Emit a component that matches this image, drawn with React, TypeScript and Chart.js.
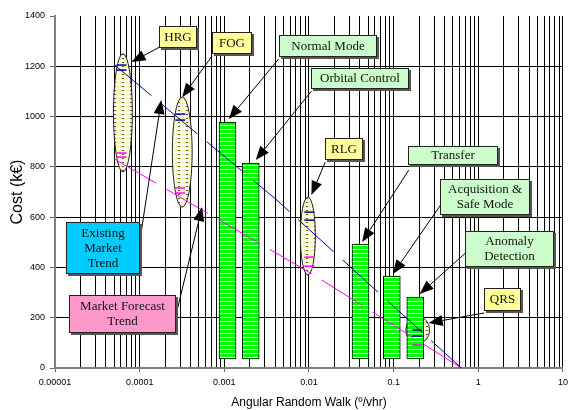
import { useEffect, useRef } from 'react';
import { Chart, registerables } from 'chart.js';

Chart.register(...registerables);

// ---------- data ----------
const xTickLabels = ['0.00001', '0.0001', '0.001', '0.01', '0.1', '1', '10'];
const xMinorMultipliers = [1, 2, 3, 4, 5, 6, 7, 8, 9];
const yMin = 0;
const yMax = 1400;
const yStep = 200;

// operating modes (floating bars)
const modeNames = ['Normal Mode', 'Orbital Control', 'Transfer', 'Acquisition & Safe Mode', 'Anomaly Detection'];
const modeARW = [0.00109, 0.00205, 0.0406, 0.095, 0.18];
const modeCostLow = [36, 36, 36, 36, 36];
const modeCostHigh = [978, 815, 493, 366, 282];

// sensor technologies (ellipses: ARW range x cost range)
const sensorNames = ['HRG', 'FOG', 'RLG', 'QRS'];
const sensorARWMin = [0.000049, 0.000243, 0.0079, 0.139];
const sensorARWMax = [0.000082, 0.000417, 0.0119, 0.266];
const sensorCostMin = [780, 640, 370, 97];
const sensorCostMax = [1250, 1078, 680, 205];

// sample points inside the ellipses
const existingPointARW = [0.000061, 0.000061, 0.000302, 0.000302, 0.0101, 0.0101, 0.19, 0.19];
const existingPointCost = [1205, 1185, 1010, 986, 620, 588, 151, 127];
const forecastPointARW = [0.000061, 0.000061, 0.000302, 0.000302, 0.0101, 0.0101, 0.19];
const forecastPointCost = [855, 839, 716, 696, 441, 405, 91];

// trend lines
const existingTrendARW = [0.0000506, 0.00404, 0.63];
const existingTrendCost = [1205, 672, 0];
const forecastTrendARW = [0.0000506, 0.0119, 0.63];
const forecastTrendCost = [831, 366, 0];

// callouts
const calloutText = ['HRG', 'FOG', 'Normal Mode', 'Orbital Control', 'RLG', 'Transfer', 'Acquisition &\nSafe Mode', 'Anomaly\nDetection', 'QRS', 'Existing\nMarket\nTrend', 'Market Forecast\nTrend'];
const calloutFill = ['#FFFF99', '#FFFF99', '#CCFFCC', '#CCFFCC', '#FFFF99', '#CCFFCC', '#CCFFCC', '#CCFFCC', '#FFFF99', '#00CCFF', '#FF99CC'];
const calloutAtARW = [0.000285, 0.001227, 0.0169, 0.0401, 0.026, 0.509, 1.21, 2.34, 1.94, 0.0000366, 0.0000619];
const calloutAtCost = [1316, 1292, 1280, 1151, 871, 845, 680, 473, 272, 477, 215];
const calloutW = [38, 40, 98, 98, 38, 90, 90, 89, 37, 74, 107];
const calloutH = [22, 22, 22, 21, 22, 19, 36, 36, 23, 52, 38];
const arrowFromARW = [0.000171, 0.000714, 0.00438, 0.01067, 0.01556, 0.1507, 0.358, 0.703, 1.175, 0.0000996, 0.000263];
const arrowFromCost = [1276, 1240, 1229, 1101, 819, 787, 648, 457, 219, 497, 199];
const arrowToARW = [0.0000802, 0.000318, 0.00113, 0.00235, 0.01067, 0.0424, 0.098, 0.203, 0.259, 0.00018, 0.000546];
const arrowToCost = [1217, 1077, 990, 827, 688, 501, 374, 294, 179, 1066, 640];

// ---------- helpers ----------
const xGridValues: number[] = [];
for (let e = -5; e <= 0; e++) {
  for (const m of xMinorMultipliers) xGridValues.push(m * Math.pow(10, e));
}
xGridValues.push(10);

const isDecade = (v: number) => Math.abs(Math.log10(v) - Math.round(Math.log10(v))) < 1e-6;

function makeBarPattern(ctx: CanvasRenderingContext2D) {
  const c = document.createElement('canvas');
  c.width = 8;
  c.height = 4;
  const g = c.getContext('2d')!;
  g.fillStyle = '#00FF00';
  g.fillRect(0, 0, 8, 4);
  g.fillStyle = '#FFFFFF';
  g.fillRect(0, 1, 8, 1);
  return ctx.createPattern(c, 'repeat')!;
}

function makeEllipsePattern(ctx: CanvasRenderingContext2D) {
  const c = document.createElement('canvas');
  c.width = 8;
  c.height = 4;
  const g = c.getContext('2d')!;
  g.fillStyle = '#FFFF99';
  g.fillRect(0, 0, 8, 4);
  g.fillStyle = '#FFFFFF';
  g.fillRect(0, 0, 8, 1);
  g.fillStyle = '#555555';
  g.fillRect(2, 2, 2, 1);
  return ctx.createPattern(c, 'repeat')!;
}

function drawArrow(ctx: CanvasRenderingContext2D, x1: number, y1: number, x2: number, y2: number) {
  const ang = Math.atan2(y2 - y1, x2 - x1);
  const len = 14;
  const hw = 5.5;
  const bx = x2 - len * Math.cos(ang);
  const by = y2 - len * Math.sin(ang);
  ctx.beginPath();
  ctx.moveTo(x1, y1);
  ctx.lineTo(bx, by);
  ctx.strokeStyle = '#000';
  ctx.lineWidth = 1;
  ctx.stroke();
  ctx.beginPath();
  ctx.moveTo(x2, y2);
  ctx.lineTo(bx + hw * Math.sin(ang), by - hw * Math.cos(ang));
  ctx.lineTo(bx - hw * Math.sin(ang), by + hw * Math.cos(ang));
  ctx.closePath();
  ctx.fillStyle = '#000';
  ctx.fill();
}

export default function App() {
  const ref = useRef<HTMLCanvasElement>(null);

  useEffect(() => {
    const canvas = ref.current!;
    const ctx = canvas.getContext('2d')!;
    const barPattern = makeBarPattern(ctx);
    const ellipsePattern = makeEllipsePattern(ctx);

    const calloutPlugin = {
      id: 'callouts',
      beforeDatasetsDraw(chart: any) {
        const c = chart.ctx as CanvasRenderingContext2D;
        const xs = chart.scales.x;
        const ys = chart.scales.y;
        c.save();
        sensorNames.forEach((_, i) => {
          const x1 = xs.getPixelForValue(sensorARWMin[i]);
          const x2 = xs.getPixelForValue(sensorARWMax[i]);
          const y1 = ys.getPixelForValue(sensorCostMax[i]);
          const y2 = ys.getPixelForValue(sensorCostMin[i]);
          c.beginPath();
          c.ellipse((x1 + x2) / 2, (y1 + y2) / 2, (x2 - x1) / 2, (y2 - y1) / 2, 0, 0, Math.PI * 2);
          c.fillStyle = ellipsePattern;
          c.fill();
          c.strokeStyle = '#222';
          c.lineWidth = 1;
          c.stroke();
        });
        c.restore();
      },
      afterDatasetsDraw(chart: any) {
        const c = chart.ctx as CanvasRenderingContext2D;
        const xs = chart.scales.x;
        const ys = chart.scales.y;
        c.save();
        calloutText.forEach((_, i) => {
          drawArrow(
            c,
            xs.getPixelForValue(arrowFromARW[i]),
            ys.getPixelForValue(arrowFromCost[i]),
            xs.getPixelForValue(arrowToARW[i]),
            ys.getPixelForValue(arrowToCost[i])
          );
        });
        calloutText.forEach((txt, i) => {
          const cx = xs.getPixelForValue(calloutAtARW[i]);
          const cy = ys.getPixelForValue(calloutAtCost[i]);
          const w = calloutW[i];
          const h = calloutH[i];
          const left = Math.round(cx - w / 2);
          const top = Math.round(cy - h / 2);
          c.fillStyle = '#555';
          c.fillRect(left + 2, top + 2, w, h);
          c.fillStyle = calloutFill[i];
          c.fillRect(left, top, w, h);
          c.strokeStyle = '#222';
          c.lineWidth = 1;
          c.strokeRect(left + 0.5, top + 0.5, w - 1, h - 1);
          const lines = txt.split('\n');
          c.fillStyle = '#111';
          c.font = '13px "Liberation Serif"';
          c.textAlign = 'center';
          c.textBaseline = 'middle';
          const lh = 15;
          lines.forEach((ln, k) => {
            c.fillText(ln, left + w / 2, top + h / 2 + (k - (lines.length - 1) / 2) * lh + 0.5);
          });
        });
        c.restore();
      },
    };

    const chart = new Chart(canvas, {
      type: 'bar',
      data: {
        datasets: [
          {
            type: 'line',
            label: 'Existing samples',
            data: existingPointARW.map((x, i) => ({ x, y: existingPointCost[i] })),
            showLine: false,
            pointStyle: 'line',
            pointRadius: 5,
            pointBorderWidth: 1.5,
            pointBorderColor: '#000099',
            borderColor: '#000099',
            order: 0,
          } as any,
          {
            type: 'line',
            label: 'Forecast samples',
            data: forecastPointARW.map((x, i) => ({ x, y: forecastPointCost[i] })),
            showLine: false,
            pointStyle: 'line',
            pointRadius: 5,
            pointBorderWidth: 1.5,
            pointBorderColor: '#FF00FF',
            borderColor: '#FF00FF',
            order: 0,
          } as any,
          {
            type: 'line',
            label: 'Existing Market Trend',
            data: existingTrendARW.map((x, i) => ({ x, y: existingTrendCost[i] })),
            borderColor: '#000099',
            borderWidth: 1,
            borderDash: [48, 12],
            pointRadius: 0,
            tension: 0,
            fill: false,
            order: 1,
          } as any,
          {
            type: 'line',
            label: 'Market Forecast Trend',
            data: forecastTrendARW.map((x, i) => ({ x, y: forecastTrendCost[i] })),
            borderColor: '#FF00FF',
            borderWidth: 1,
            borderDash: [48, 12],
            pointRadius: 0,
            tension: 0,
            fill: false,
            order: 1,
          } as any,
          {
            type: 'bar',
            label: 'Modes',
            data: modeARW.map((x, i) => ({ x, y: [modeCostLow[i], modeCostHigh[i]] })) as any,
            backgroundColor: barPattern as any,
            borderColor: '#000',
            borderWidth: 1,
            borderSkipped: false,
            barThickness: 17,
            order: 2,
          } as any,
        ],
      },
      options: {
        responsive: false,
        animation: false,
        devicePixelRatio: 1,
        layout: { padding: { top: 16, right: 7, bottom: 0, left: 0 } },
        plugins: {
          legend: { display: false },
          tooltip: { enabled: false },
        },
        scales: {
          x: {
            type: 'logarithmic',
            min: 1e-5,
            max: 10,
            offset: false,
            afterBuildTicks: (scale: any) => {
              scale.ticks = xGridValues.map((v) => ({ value: v }));
            },
            afterFit: (scale: any) => {
              scale.height = 42;
            },
            ticks: {
              autoSkip: false,
              maxRotation: 0,
              minRotation: 0,
              padding: 5,
              color: '#000',
              font: { family: '"Liberation Sans", Arial', size: 9 },
              callback: (v: any) => (isDecade(Number(v)) ? xTickLabels[Math.round(Math.log10(Number(v))) + 5] : ''),
            },
            grid: {
              offset: false,
              color: '#000',
              lineWidth: 1,
              tickLength: 4,
              tickColor: (c: any) => (c.tick && isDecade(c.tick.value) ? '#666' : 'rgba(0,0,0,0)'),
            },
            border: { color: '#808080', width: 2 },
            title: {
              display: true,
              text: 'Angular Random Walk (º/vhr)',
              color: '#000',
              font: { family: '"Liberation Sans", Arial', size: 12 },
              padding: { top: 0, bottom: 0 },
            },
          } as any,
          y: {
            type: 'linear',
            min: yMin,
            max: yMax,
            afterFit: (scale: any) => {
              scale.width = 55;
            },
            ticks: {
              stepSize: yStep,
              padding: 5,
              color: '#000',
              font: { family: '"Liberation Sans", Arial', size: 9 },
              callback: (v: any) => String(v),
            },
            grid: {
              color: (c: any) => (c.tick && c.tick.value === yMax ? 'rgba(0,0,0,0)' : '#000'),
              lineWidth: 1,
              tickLength: 5,
              tickColor: '#666',
            },
            border: { color: '#808080', width: 2 },
            title: {
              display: true,
              text: 'Cost (k€)',
              color: '#000',
              font: { family: '"Liberation Sans", Arial', size: 16 },
              padding: { top: 8, bottom: 0 },
            },
          } as any,
        },
      },
      plugins: [calloutPlugin],
    } as any);

    return () => chart.destroy();
  }, []);

  return (
    <div style={{ position: 'absolute', left: 0, top: 0, width: 573, height: 410 }}>
      <canvas ref={ref} width={573} height={410} style={{ display: 'block', width: 573, height: 410 }} />
    </div>
  );
}
